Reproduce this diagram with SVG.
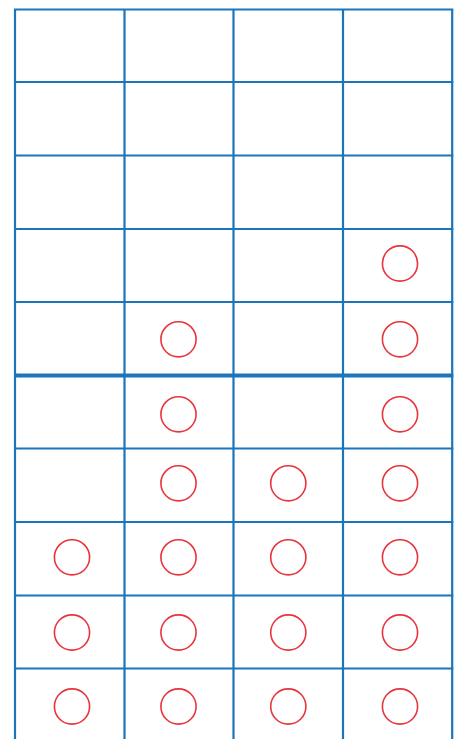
<svg xmlns="http://www.w3.org/2000/svg" width="460" height="739" viewBox="0 0 460 739">
<style>
.g{stroke:#1a75bb;stroke-width:2.2;fill:none}
.t{stroke:#1a75bb;stroke-width:4;fill:none}
.c{stroke:#e8343c;stroke-width:1.6;fill:none}
</style>
<rect width="460" height="739" fill="#fff"/>
<g id="grid">
<path class="g" d="M15,9.5V745 M124.5,9.5V745 M233.5,9.5V745 M343,9.5V745 M452.2,9.5V745"/>
<path class="g" d="M14,9.5H453.3 M14,82H453.3 M14,155.5H453.3 M14,229H453.3 M14,302H453.3 M14,448.5H453.3 M14,522H453.3 M14,595.5H453.3 M14,668.5H453.3"/>
<path class="t" d="M14,375.5H453.3"/>
</g>
<g id="marks">
<circle class="c" cx="400" cy="263.5" r="17.6"/>
<circle class="c" cx="178.5" cy="339.3" r="17.6"/>
<circle class="c" cx="400" cy="339.3" r="17.6"/>
<circle class="c" cx="178.5" cy="414.3" r="17.6"/>
<circle class="c" cx="400" cy="414.3" r="17.6"/>
<circle class="c" cx="178.5" cy="483.3" r="17.6"/>
<circle class="c" cx="288.3" cy="483.3" r="17.6"/>
<circle class="c" cx="400" cy="483.3" r="17.6"/>
<circle class="c" cx="72" cy="557.3" r="17.6"/>
<circle class="c" cx="178.5" cy="557.3" r="17.6"/>
<circle class="c" cx="288.3" cy="557.3" r="17.6"/>
<circle class="c" cx="400" cy="557.3" r="17.6"/>
<circle class="c" cx="72" cy="632.5" r="17.6"/>
<circle class="c" cx="178.5" cy="632.5" r="17.6"/>
<circle class="c" cx="288.3" cy="632.5" r="17.6"/>
<circle class="c" cx="400" cy="632.5" r="17.6"/>
<circle class="c" cx="72" cy="706.5" r="17.6"/>
<circle class="c" cx="178.5" cy="706.5" r="17.6"/>
<circle class="c" cx="288.3" cy="706.5" r="17.6"/>
<circle class="c" cx="400" cy="706.5" r="17.6"/>
</g>
</svg>
